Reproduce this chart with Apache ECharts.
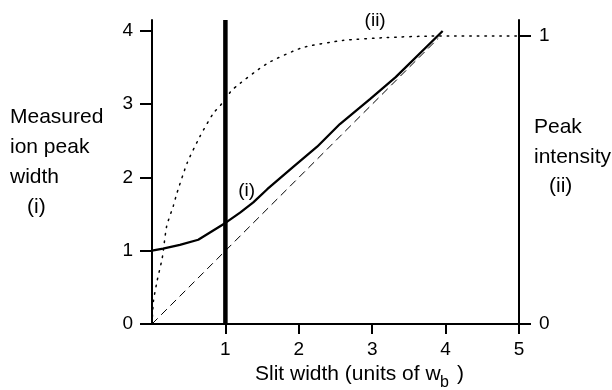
<!DOCTYPE html>
<html>
<head>
<meta charset="utf-8">
<script src="https://cdn.jsdelivr.net/npm/echarts@6/dist/echarts.min.js"></script>
<style>
  html, body { margin: 0; padding: 0; background: #fff; }
  #chart { width: 612px; height: 390px; }
</style>
</head>
<body>
<div id="chart"></div>
<script>
const FONT = "'Liberation Sans', Arial, Helvetica, sans-serif"

// slit width (units of w_b)
const xTicks = [1, 2, 3, 4, 5]
const leftTicks = [0, 1, 2, 3, 4]
const rightTicks = [0, 1]

// (i) measured ion peak width
const peakWidthX = [0, 0.15, 0.38, 0.63, 0.79, 1.0, 1.2, 1.38, 1.57, 1.92, 2.25, 2.56, 2.97, 3.32, 3.96]
const peakWidthY = [1.0, 1.03, 1.08, 1.15, 1.25, 1.38, 1.52, 1.66, 1.84, 2.14, 2.42, 2.73, 3.07, 3.37, 4.0]

// (ii) peak intensity, right axis
const intensityX = [0, 0.02, 0.07, 0.14, 0.2, 0.29, 0.34, 0.48, 0.65, 0.83, 0.95, 1.1, 1.57, 2.05, 2.6, 3.2, 3.8, 5]
const intensityY = [0, 0.08, 0.15, 0.23, 0.34, 0.41, 0.455, 0.56, 0.65, 0.73, 0.765, 0.815, 0.905, 0.96, 0.985, 0.995, 1.0, 1.0]

// slit width = peak width reference
const diagX = [0, 3.9]
const diagY = [0, 3.9]

// slit width = 1
const slitX = [1, 1]
const slitY = [0, 4.15]

// curve labels
const noteText = ['(i)', '(ii)']
const noteX = [1.29, 3.04]
const noteY = [1.82, 4.14]

const zip = (xs, ys) => xs.map((x, i) => [x, ys[i]])

const chart = echarts.init(document.getElementById('chart'), null, { renderer: 'canvas' })

const textStyle = { fontFamily: FONT, fontSize: 21, fill: '#000' }
const tickLabel = { color: '#000', fontFamily: FONT, fontSize: 19 }

const option = {
  backgroundColor: '#fff',
  animation: false,
  grid: { left: 152, right: 93, top: 20, bottom: 66 },
  xAxis: {
    type: 'value',
    min: 0,
    max: 5,
    interval: 1,
    splitLine: { show: false },
    axisLine: { lineStyle: { color: '#000', width: 2 } },
    axisTick: { show: true, length: 10, lineStyle: { color: '#000', width: 2 }, customValues: xTicks },
    axisLabel: { ...tickLabel, margin: 16, customValues: xTicks },
  },
  yAxis: [
    {
      type: 'value',
      min: 0,
      max: 4.15,
      splitLine: { show: false },
      axisLine: { lineStyle: { color: '#000', width: 2 } },
      axisTick: { show: true, length: 12, lineStyle: { color: '#000', width: 2 }, customValues: leftTicks },
      axisLabel: { ...tickLabel, margin: 19, customValues: leftTicks },
    },
    {
      type: 'value',
      min: 0,
      max: 1.056,
      position: 'right',
      splitLine: { show: false },
      axisLine: { show: true, lineStyle: { color: '#000', width: 2 } },
      axisTick: { show: true, length: 12, lineStyle: { color: '#000', width: 2 }, customValues: rightTicks },
      axisLabel: { ...tickLabel, margin: 20, customValues: rightTicks },
    },
  ],
  series: [
    {
      name: 'dashed',
      type: 'line',
      data: zip(diagX, diagY),
      symbol: 'none',
      lineStyle: { color: '#000', width: 1, type: [8, 5] },
      z: 1,
    },
    {
      name: 'intensity',
      type: 'line',
      yAxisIndex: 1,
      data: zip(intensityX, intensityY),
      symbol: 'none',
      smooth: 0.2,
      lineStyle: { color: '#000', width: 1.5, type: [1.5, 6], cap: 'round' },
      z: 2,
    },
    {
      name: 'peak width',
      type: 'line',
      data: zip(peakWidthX, peakWidthY),
      symbol: 'none',
      lineStyle: { color: '#000', width: 2.3 },
      z: 3,
    },
    {
      name: 'slit',
      type: 'line',
      data: zip(slitX, slitY),
      symbol: 'none',
      lineStyle: { color: '#000', width: 4.5 },
      z: 4,
    },
    {
      name: 'notes',
      type: 'scatter',
      data: noteX.map((x, i) => ({ value: [x, noteY[i]], name: noteText[i] })),
      symbolSize: 0,
      clip: false,
      itemStyle: { opacity: 1 },
      label: {
        show: true,
        position: 'inside',
        formatter: p => p.name,
        ...tickLabel,
        opacity: 1,
      },
      z: 5,
    },
  ],
  graphic: [
    { type: 'text', left: 10, top: 107, style: { ...textStyle, text: 'Measured' } },
    { type: 'text', left: 10, top: 137, style: { ...textStyle, text: 'ion peak' } },
    { type: 'text', left: 10, top: 167, style: { ...textStyle, text: 'width' } },
    { type: 'text', left: 27, top: 197, style: { ...textStyle, text: '(i)' } },
    { type: 'text', left: 534, top: 117, style: { ...textStyle, text: 'Peak' } },
    { type: 'text', left: 534, top: 147, style: { ...textStyle, text: 'intensity' } },
    { type: 'text', left: 549, top: 176, style: { ...textStyle, text: '(ii)' } },
    { type: 'text', left: 255, top: 364, style: { ...textStyle, text: 'Slit width (units of w' } },
    { type: 'text', left: 440, top: 375, style: { ...textStyle, fontSize: 16, text: 'b' } },
    { type: 'text', left: 457, top: 364, style: { ...textStyle, text: ')' } },
  ],
}

chart.setOption(option)
</script>
</body>
</html>
